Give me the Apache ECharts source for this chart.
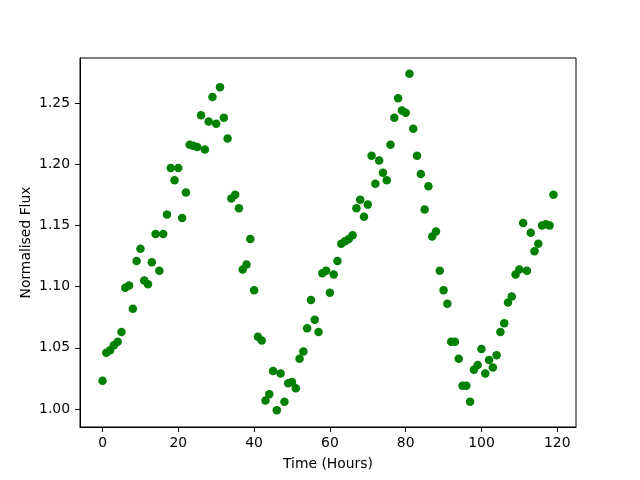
<!DOCTYPE html>
<html>
<head>
<meta charset="utf-8">
<script src="https://cdn.jsdelivr.net/npm/echarts@6/dist/echarts.min.js"></script>
<style>
  html, body { margin: 0; padding: 0; background: #fff; }
  #chart { width: 640px; height: 480px; }
</style>
</head>
<body>
<div id="chart"></div>
<script>
// time of each sample (hours)
const hours = [
  0, 1, 2, 3, 4, 5, 6, 7, 8, 9, 10, 11, 12, 13, 14, 15, 16, 17, 18, 19,
  20, 21, 22, 23, 24, 25, 26, 27, 28, 29, 30, 31, 32, 33, 34, 35, 36, 37, 38, 39,
  40, 41, 42, 43, 44, 45, 46, 47, 48, 49, 50, 51, 52, 53, 54, 55, 56, 57, 58, 59,
  60, 61, 62, 63, 64, 65, 66, 67, 68, 69, 70, 71, 72, 73, 74, 75, 76, 77, 78, 79,
  80, 81, 82, 83, 84, 85, 86, 87, 88, 89, 90, 91, 92, 93, 94, 95, 96, 97, 98, 99,
  100, 101, 102, 103, 104, 105, 106, 107, 108, 109, 110, 111, 112, 113, 114, 115, 116, 117, 118, 119
];
// normalised flux
const flux = [
  1.023, 1.046, 1.048, 1.052, 1.055, 1.063, 1.099, 1.101, 1.082, 1.121,
  1.131, 1.105, 1.102, 1.120, 1.143, 1.113, 1.143, 1.159, 1.197, 1.187,
  1.197, 1.156, 1.177, 1.216, 1.215, 1.214, 1.240, 1.212, 1.235, 1.255,
  1.233, 1.263, 1.238, 1.221, 1.172, 1.175, 1.164, 1.114, 1.118, 1.139,
  1.097, 1.059, 1.056, 1.007, 1.012, 1.031, 0.999, 1.029, 1.006, 1.021,
  1.022, 1.017, 1.041, 1.047, 1.066, 1.089, 1.073, 1.063, 1.111, 1.113,
  1.095, 1.110, 1.121, 1.135, 1.137, 1.139, 1.142, 1.164, 1.171, 1.157,
  1.167, 1.207, 1.184, 1.203, 1.193, 1.187, 1.216, 1.238, 1.254, 1.244,
  1.242, 1.274, 1.229, 1.207, 1.192, 1.163, 1.182, 1.141, 1.145, 1.113,
  1.097, 1.086, 1.055, 1.055, 1.041, 1.019, 1.019, 1.006, 1.032, 1.036,
  1.049, 1.029, 1.040, 1.034, 1.044, 1.063, 1.070, 1.087, 1.092, 1.110,
  1.114, 1.152, 1.113, 1.144, 1.129, 1.135, 1.150, 1.151, 1.150, 1.175
];
const xTicks = [0, 20, 40, 60, 80, 100, 120];
const yTicks = [1.00, 1.05, 1.10, 1.15, 1.20, 1.25];

const font = "DejaVu Sans";
const chart = echarts.init(document.getElementById("chart"));

const option = {
  animation: false,
  grid: {
    left: 80,
    right: 64,
    top: 58,
    bottom: 53,
    show: true,
    borderColor: "#000",
    borderWidth: 1,
    backgroundColor: "transparent",
  },
  xAxis: {
    type: "value",
    min: -5.95,
    max: 124.95,
    name: "Time (Hours)",
    nameLocation: "middle",
    nameGap: 30,
    nameMoveOverlap: false,
    nameTextStyle: { color: "#000", fontFamily: font, fontSize: 13.9 },
    splitLine: { show: false },
    axisLine: { show: true, onZero: false, lineStyle: { color: "#000", width: 1 } },
    axisTick: {
      show: true,
      length: 5,
      lineStyle: { color: "#000" },
      customValues: xTicks,
    },
    axisLabel: {
      color: "#000",
      fontFamily: font,
      fontSize: 13.9,
      margin: 9,
      customValues: xTicks,
    },
  },
  yAxis: {
    type: "value",
    min: 0.9853,
    max: 1.2868,
    name: "Normalised Flux",
    nameLocation: "middle",
    nameGap: 47,
    nameMoveOverlap: false,
    nameTextStyle: { color: "#000", fontFamily: font, fontSize: 13.9 },
    splitLine: { show: false },
    axisLine: { show: true, onZero: false, lineStyle: { color: "#000", width: 1 } },
    axisTick: {
      show: true,
      length: 5,
      lineStyle: { color: "#000" },
      customValues: yTicks,
    },
    axisLabel: {
      color: "#000",
      fontFamily: font,
      fontSize: 13.9,
      margin: 10,
      customValues: yTicks,
      formatter: (v) => v.toFixed(2),
    },
  },
  series: [
    {
      type: "scatter",
      symbol: "circle",
      symbolSize: 8.5,
      itemStyle: { color: "#008000", opacity: 1 },
      data: hours.map((h, i) => [h, flux[i]]),
    },
  ],
};

chart.setOption(option);
</script>
</body>
</html>
